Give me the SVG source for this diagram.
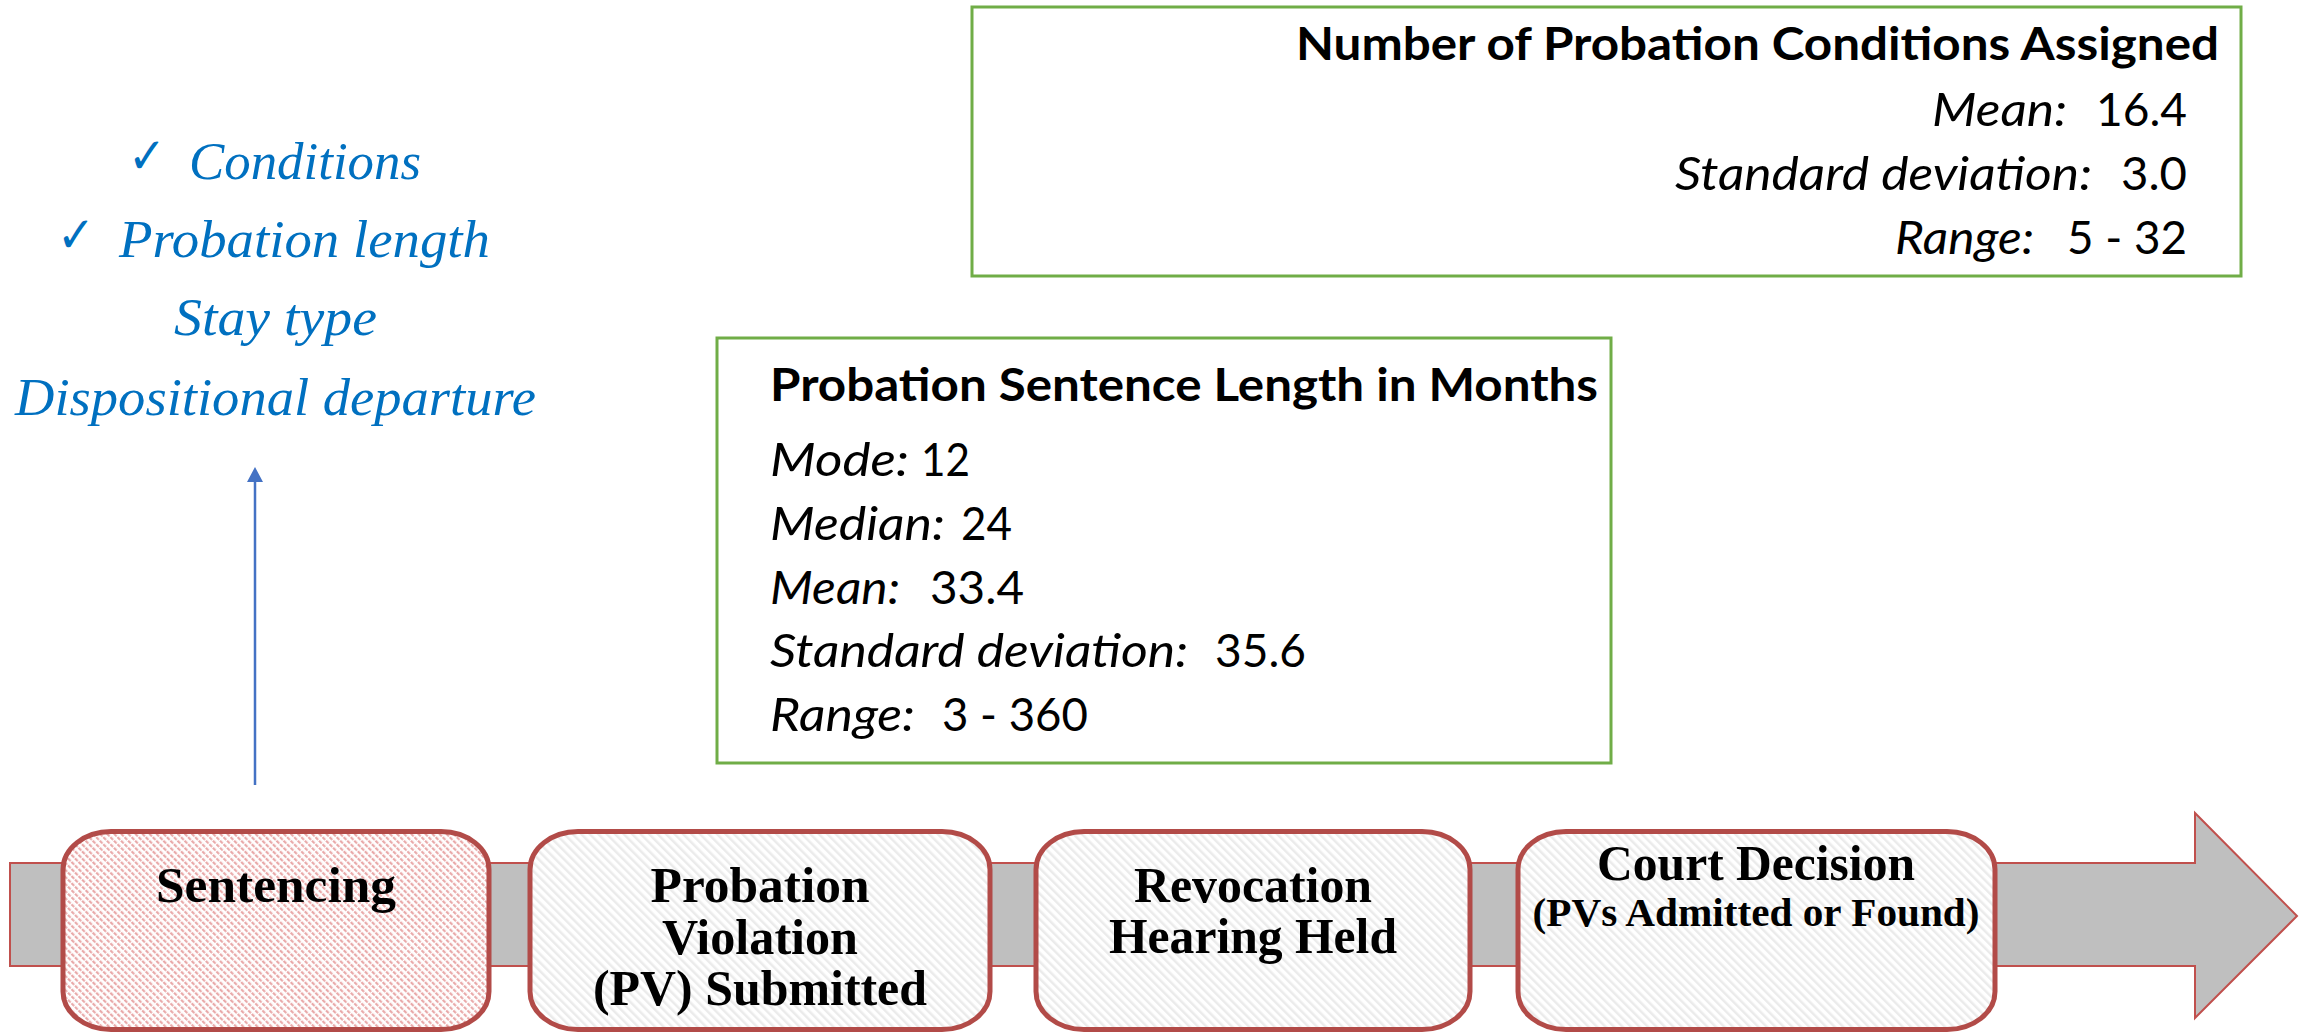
<svg xmlns="http://www.w3.org/2000/svg" width="2310" height="1033" viewBox="0 0 2310 1033">
<defs>
  <pattern id="pinkHatch" width="5" height="5" patternUnits="userSpaceOnUse" patternTransform="rotate(-45)">
    <rect width="5" height="5" fill="#ffffff"/>
    <rect x="0" y="0" width="2.2" height="3.8" fill="#E9A9A9"/>
  </pattern>
  <pattern id="grayHatch" width="6" height="6" patternUnits="userSpaceOnUse" patternTransform="rotate(-45)">
    <rect width="6" height="6" fill="#ffffff"/>
    <rect x="0" y="0" width="2.5" height="6" fill="#EBEBEB"/>
  </pattern>
  <style>
    .step { stroke: #B24B48; stroke-width: 5; }
    .lbl { font-family: "Liberation Serif", "Times New Roman", serif; font-weight: bold; font-size: 50px; fill: #000; text-anchor: middle; }
    .lblSmall { font-size: 40px; }
    .blue { font-family: "Liberation Serif", "Times New Roman", serif; font-style: italic; font-size: 53px; fill: #0070C0; }
    .check { font-family: "DejaVu Sans", sans-serif; font-weight: bold; font-size: 50px; fill: #0070C0; }
    .statBox { fill: #ffffff; stroke: #70AD47; stroke-width: 3; }
    .stitle { font-family: Lato, "Liberation Sans", sans-serif; font-weight: bold; font-size: 46px; fill: #000; }
    .sit { font-family: Lato, "Liberation Sans", sans-serif; font-style: italic; font-size: 46px; fill: #000; }
    .sval { font-family: Lato, "Liberation Sans", sans-serif; font-size: 46px; fill: #000; }
  </style>
</defs>
<rect width="2310" height="1033" fill="#ffffff"/>

<!-- timeline arrow -->
<g id="timeline">
  <polygon points="10,863 2195,863 2195,813 2297,916 2195,1018 2195,966 10,966" fill="#BFBFBF" stroke="#C0504D" stroke-width="2"/>
</g>

<!-- connectors -->
<g id="connectors">
  <line x1="255" y1="785" x2="255" y2="480" stroke="#4472C4" stroke-width="2.5"/>
  <polygon points="255,467 263,482 247,482" fill="#4472C4"/>
</g>

<g id="sentencing">
  <rect class="step" x="63" y="831.5" width="426" height="198" rx="48" ry="38" fill="url(#pinkHatch)"/>
  <text class="lbl" x="276" y="902" textLength="240" lengthAdjust="spacingAndGlyphs">Sentencing</text>
</g>

<g id="pv-submitted">
  <rect class="step" x="530" y="831.5" width="460" height="198" rx="48" ry="38" fill="url(#grayHatch)"/>
  <text class="lbl" x="760" y="902" textLength="219" lengthAdjust="spacingAndGlyphs">Probation</text>
  <text class="lbl" x="760" y="954" textLength="196" lengthAdjust="spacingAndGlyphs">Violation</text>
  <text class="lbl" x="760" y="1005" textLength="334" lengthAdjust="spacingAndGlyphs">(PV) Submitted</text>
</g>

<g id="revocation-hearing">
  <rect class="step" x="1036" y="831.5" width="434" height="198" rx="48" ry="38" fill="url(#grayHatch)"/>
  <text class="lbl" x="1253" y="902" textLength="238" lengthAdjust="spacingAndGlyphs">Revocation</text>
  <text class="lbl" x="1253" y="953" textLength="288" lengthAdjust="spacingAndGlyphs">Hearing Held</text>
</g>

<g id="court-decision">
  <rect class="step" x="1518" y="831.5" width="477" height="198" rx="48" ry="38" fill="url(#grayHatch)"/>
  <text class="lbl" x="1756" y="880" textLength="318" lengthAdjust="spacingAndGlyphs">Court Decision</text>
  <text class="lbl lblSmall" x="1756" y="926" textLength="447" lengthAdjust="spacingAndGlyphs">(PVs Admitted or Found)</text>
</g>

<g id="sentencing-factors">
  <text class="check" x="128" y="173" textLength="38" lengthAdjust="spacingAndGlyphs">✓</text>
  <text class="blue" x="189" y="179" textLength="232" lengthAdjust="spacingAndGlyphs">Conditions</text>
  <text class="check" x="57" y="252" textLength="38" lengthAdjust="spacingAndGlyphs">✓</text>
  <text class="blue" x="119" y="257" textLength="371" lengthAdjust="spacingAndGlyphs">Probation length</text>
  <text class="blue" x="174" y="335" textLength="203" lengthAdjust="spacingAndGlyphs">Stay type</text>
  <text class="blue" x="15" y="415" textLength="521" lengthAdjust="spacingAndGlyphs">Dispositional departure</text>
</g>

<g id="conditions-stats">
  <rect class="statBox" x="972" y="7" width="1269" height="269"/>
  <text class="stitle" x="1296" y="60" textLength="923" lengthAdjust="spacingAndGlyphs">Number of Probation Conditions Assigned</text>
  <text class="sit" x="1932" y="126" textLength="135" lengthAdjust="spacingAndGlyphs">Mean:</text>
  <text class="sval" x="2096" y="126" textLength="91" lengthAdjust="spacingAndGlyphs">16.4</text>
  <text class="sit" x="1675" y="190" textLength="417" lengthAdjust="spacingAndGlyphs">Standard deviation:</text>
  <text class="sval" x="2121" y="190" textLength="66" lengthAdjust="spacingAndGlyphs">3.0</text>
  <text class="sit" x="1895" y="254" textLength="139" lengthAdjust="spacingAndGlyphs">Range:</text>
  <text class="sval" x="2067" y="254" textLength="120" lengthAdjust="spacingAndGlyphs">5 - 32</text>
</g>

<g id="length-stats">
  <rect class="statBox" x="717" y="338" width="894" height="425"/>
  <text class="stitle" x="770" y="401" textLength="828" lengthAdjust="spacingAndGlyphs">Probation Sentence Length in Months</text>
  <text class="sit" x="770" y="476" textLength="139" lengthAdjust="spacingAndGlyphs">Mode:</text>
  <text class="sval" x="921" y="476" textLength="49" lengthAdjust="spacingAndGlyphs">12</text>
  <text class="sit" x="770" y="540" textLength="175" lengthAdjust="spacingAndGlyphs">Median:</text>
  <text class="sval" x="961" y="540" textLength="51" lengthAdjust="spacingAndGlyphs">24</text>
  <text class="sit" x="770" y="604" textLength="130" lengthAdjust="spacingAndGlyphs">Mean:</text>
  <text class="sval" x="930" y="604" textLength="94" lengthAdjust="spacingAndGlyphs">33.4</text>
  <text class="sit" x="770" y="667" textLength="418" lengthAdjust="spacingAndGlyphs">Standard deviation:</text>
  <text class="sval" x="1215" y="667" textLength="91" lengthAdjust="spacingAndGlyphs">35.6</text>
  <text class="sit" x="770" y="731" textLength="145" lengthAdjust="spacingAndGlyphs">Range:</text>
  <text class="sval" x="942" y="731" textLength="146" lengthAdjust="spacingAndGlyphs">3 - 360</text>
</g>
</svg>
